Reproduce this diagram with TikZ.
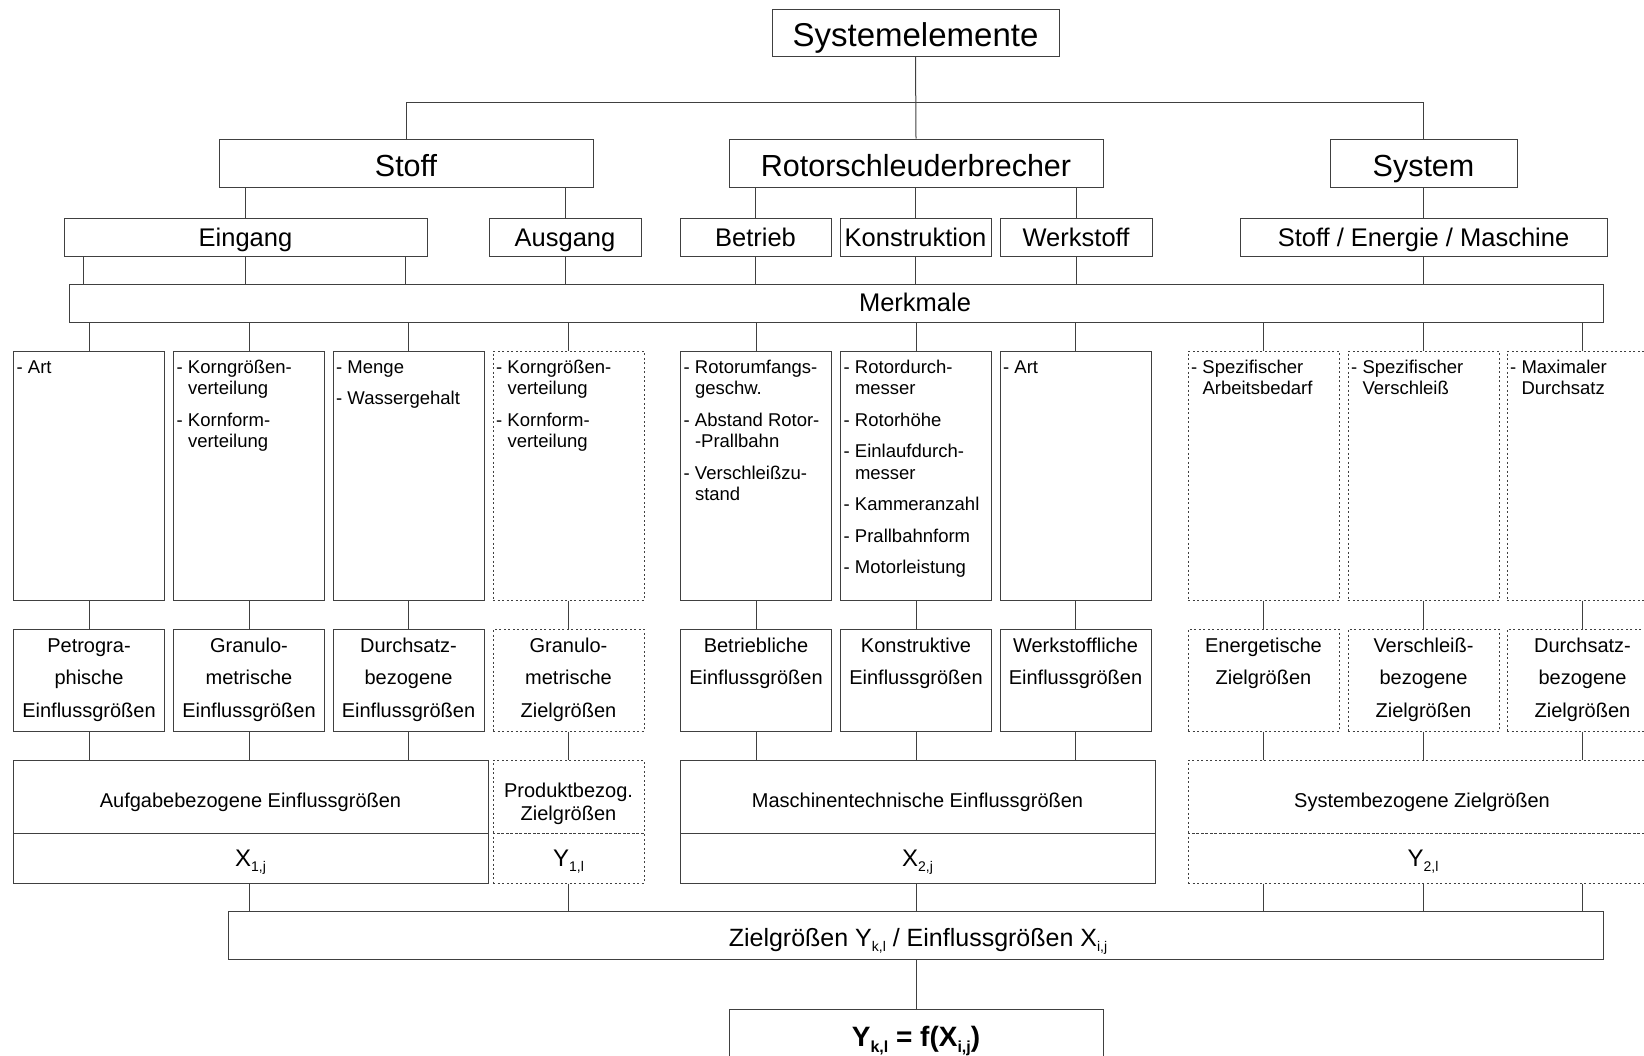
\documentclass[tikz,border=0pt]{standalone}
\usepackage{fontspec}
\setmainfont{Liberation Sans}
\newcommand\lowidx[1]{\raisebox{-5pt}{\fontsize{14}{14}\selectfont #1}}
\newcommand\lowidxb[1]{\raisebox{-6pt}{\fontsize{16}{16}\selectfont #1}}
\newcommand\ind{\phantom{- }}
\newcommand\boxtxtc[1]{\parbox[t]{150pt}{\centering\fontsize{20}{32.5}\selectfont #1}}
\newcommand\boxtxtl[1]{\parbox[t]{150pt}{\raggedright\fontsize{18.5}{21.6}\selectfont #1}}
\begin{document}
\begin{tikzpicture}[x=1pt,y=-1pt,
  ln/.style={draw=black!75, line width=1pt},
  bx/.style={ln, rectangle, inner sep=0pt, minimum width=151pt},
  dbx/.style={bx, dash pattern=on 2pt off 2.5pt},
  tx/.style={anchor=base, inner sep=0pt, text=black},
  lx/.style={anchor=base west, inner sep=0pt, text=black},
  fA/.style={font=\fontsize{33}{40}\selectfont},
  fB/.style={font=\fontsize{30.5}{36}\selectfont},
  fC/.style={font=\fontsize{25.5}{30}\selectfont},
  fD/.style={font=\fontsize{20}{24}\selectfont},
  fX/.style={font=\fontsize{24}{28}\selectfont},
  fZ/.style={font=\fontsize{25}{30}\selectfont}]
\useasboundingbox (0,0) rectangle (1644,1055);
\clip (0,0) rectangle (1644,1055);

% ---- level 0
\node[bx, minimum width=287pt, minimum height=47pt] (sys) at (915.5,32.5) {};
\node[tx, fA] (sysT) at (915.5,46.7) {Systemelemente};

% ---- level 1
\node[bx, minimum width=374pt, minimum height=48pt] (stoff) at (406,163) {};
\node[bx, minimum width=374pt, minimum height=48pt] (rotor) at (916,163) {};
\node[bx, minimum width=187pt, minimum height=48pt] (system) at (1423.5,163) {};
\node[tx, fB] (stoffT) at (406,176) {Stoff};
\node[tx, fB] (rotorT) at (916,176) {Rotorschleuderbrecher};
\node[tx, fB] (systemT) at (1423.5,176) {System};

\coordinate (hub) at (916,102);
\draw[ln] (sys.south) -- (rotor.north);
\draw[ln] (stoff.north) -- (stoff.north |- hub) -- (system.north |- hub) -- (system.north);

% ---- level 2
\node[bx, minimum width=363pt, minimum height=38pt] (eing) at (245.5,237) {};
\node[bx, minimum width=152pt, minimum height=38pt] (ausg) at (565,237) {};
\node[bx, minimum width=151pt, minimum height=38pt] (betr) at (755.5,237) {};
\node[bx, minimum width=151pt, minimum height=38pt] (konst) at (915.5,237) {};
\node[bx, minimum width=152pt, minimum height=38pt] (werk) at (1076,237) {};
\node[bx, minimum width=367pt, minimum height=38pt] (sem) at (1423.5,237) {};
\node[tx, fC] (eingT) at (245.5,246) {Eingang};
\node[tx, fC] (ausgT) at (565,246) {Ausgang};
\node[tx, fC] (betrT) at (755.5,246) {Betrieb};
\node[tx, fC] (konstT) at (915.5,246) {Konstruktion};
\node[tx, fC] (werkT) at (1076,246) {Werkstoff};
\node[tx, fC] (semT) at (1423.5,246) {Stoff / Energie / Maschine};

\draw[ln] (eing.north) -- (eing.north |- stoff.south);
\draw[ln] (ausg.north) -- (ausg.north |- stoff.south);
\draw[ln] (betr.north) -- (betr.north |- rotor.south);
\draw[ln] (konst.north) -- (konst.north |- rotor.south);
\draw[ln] (werk.north) -- (werk.north |- rotor.south);
\draw[ln] (sem.north) -- (sem.north |- system.south);

% ---- Merkmale
\node[bx, minimum width=1534pt, minimum height=38pt] (merk) at (836,303) {};
\node[tx, fC] (merkT) at (915,311.7) {Merkmale};

\draw[ln] (83,0 |- eing.south) -- (83,0 |- merk.north);
\draw[ln] (eing.south) -- (eing.south |- merk.north);
\draw[ln] (405,0 |- eing.south) -- (405,0 |- merk.north);
\draw[ln] (ausg.south) -- (ausg.south |- merk.north);
\draw[ln] (betr.south) -- (betr.south |- merk.north);
\draw[ln] (konst.south) -- (konst.south |- merk.north);
\draw[ln] (werk.south) -- (werk.south |- merk.north);
\draw[ln] (sem.south) -- (sem.south |- merk.north);

% ---- level 3 and level 4 columns
\foreach \i/\x in {1/89,2/249,3/408.5,5/756,6/916,7/1075.5}{
  \node[bx, minimum height=249pt] (a\i) at (\x,475.5) {};
  \node[bx, minimum height=102pt] (b\i) at (\x,680) {};
}
\foreach \i/\x in {4/568.5,8/1263.5,9/1423.5,10/1582.5}{
  \node[dbx, minimum height=249pt] (a\i) at (\x,475.5) {};
  \node[dbx, minimum height=102pt] (b\i) at (\x,680) {};
}
\foreach \i in {1,...,10}{
  \draw[ln] (a\i.north) -- (a\i.north |- merk.south);
  \draw[ln] (a\i.south) -- (b\i.north);
}

% level 3 texts
\node[lx] (l1) at (16.5,373.3) {\boxtxtl{- Art}};
\node[lx] (l2) at (176.5,373.3) {\boxtxtl{- Korngrößen-\\\ind verteilung\\[9.8pt]- Kornform-\\\ind verteilung}};
\node[lx] (l3) at (336,373.3) {\boxtxtl{- Menge\\[9.8pt]- Wassergehalt}};
\node[lx] (l4) at (496,373.3) {\boxtxtl{- Korngrößen-\\\ind verteilung\\[9.8pt]- Kornform-\\\ind verteilung}};
\node[lx] (l5) at (683.5,373.3) {\boxtxtl{- Rotorumfangs-\\\ind geschw.\\[9.8pt]- Abstand Rotor-\\\ind -Prallbahn\\[9.8pt]- Verschleißzu-\\\ind stand}};
\node[lx] (l6) at (843.5,373.3) {\boxtxtl{- Rotordurch-\\\ind messer\\[9.8pt]- Rotorhöhe\\[9.8pt]- Einlaufdurch-\\\ind messer\\[9.8pt]- Kammeranzahl\\[9.8pt]- Prallbahnform\\[9.8pt]- Motorleistung}};
\node[lx] (l7) at (1003,373.3) {\boxtxtl{- Art}};
\node[lx] (l8) at (1191,373.3) {\boxtxtl{- Spezifischer\\\ind Arbeitsbedarf}};
\node[lx] (l9) at (1351,373.3) {\boxtxtl{- Spezifischer\\\ind Verschleiß}};
\node[lx] (l10) at (1510,373.3) {\boxtxtl{- Maximaler\\\ind Durchsatz}};

% level 4 texts
\node[tx] (m1) at (89,652) {\boxtxtc{Petrogra-\\phische\\Einflussgrößen}};
\node[tx] (m2) at (249,652) {\boxtxtc{Granulo-\\metrische\\Einflussgrößen}};
\node[tx] (m3) at (408.5,652) {\boxtxtc{Durchsatz-\\bezogene\\Einflussgrößen}};
\node[tx] (m4) at (568.5,652) {\boxtxtc{Granulo-\\metrische\\Zielgrößen}};
\node[tx] (m5) at (756,652) {\boxtxtc{Betriebliche\\Einflussgrößen}};
\node[tx] (m6) at (916,652) {\boxtxtc{Konstruktive\\Einflussgrößen}};
\node[tx] (m7) at (1075.5,652) {\boxtxtc{Werkstoffliche\\Einflussgrößen}};
\node[tx] (m8) at (1263.5,652) {\boxtxtc{Energetische\\Zielgrößen}};
\node[tx] (m9) at (1423.5,652) {\boxtxtc{Verschleiß-\\bezogene\\Zielgrößen}};
\node[tx] (m10) at (1582.5,652) {\boxtxtc{Durchsatz-\\bezogene\\Zielgrößen}};

% ---- level 5
\node[bx, minimum width=475pt, minimum height=73pt] (aufgU) at (250.5,796.5) {};
\node[bx, minimum width=475pt, minimum height=50pt] (aufgL) at (250.5,858) {};
\node[dbx, minimum width=151pt, minimum height=73pt] (prodU) at (568.5,796.5) {};
\node[dbx, minimum width=151pt, minimum height=50pt] (prodL) at (568.5,858) {};
\node[bx, minimum width=475pt, minimum height=73pt] (maschU) at (917.5,796.5) {};
\node[bx, minimum width=475pt, minimum height=50pt] (maschL) at (917.5,858) {};
\node[dbx, minimum width=475pt, minimum height=73pt] (syszU) at (1425.5,796.5) {};
\node[dbx, minimum width=475pt, minimum height=50pt] (syszL) at (1425.5,858) {};

\node[tx, fD] (aufgT) at (250.5,807) {Aufgabebezogene Einflussgrößen};
\node[tx] (prodT) at (568.5,797.3) {\parbox[t]{150pt}{\centering\fontsize{20}{23}\selectfont Produktbezog.\\Zielgrößen}};
\node[tx, fD] (maschT) at (917.5,807) {Maschinentechnische Einflussgrößen};
\node[tx, fD] (syszT) at (1422,807) {Systembezogene Zielgrößen};
\node[tx, fX] (x1T) at (250.5,866.7) {X\lowidx{1,j}};
\node[tx, fX] (y1T) at (568.5,866.7) {Y\lowidx{1,l}};
\node[tx, fX] (x2T) at (917.5,866.7) {X\lowidx{2,j}};
\node[tx, fX] (y2T) at (1423,866.7) {Y\lowidx{2,l}};

\foreach \i/\t in {1/aufgU,2/aufgU,3/aufgU,4/prodU,5/maschU,6/maschU,7/maschU,8/syszU,9/syszU,10/syszU}{
  \draw[ln] (b\i.south) -- (b\i.south |- \t.north);
}

% ---- bar
\node[bx, minimum width=1374.5pt, minimum height=48pt] (bar) at (915.75,935) {};
\node[tx, fZ] (barT) at (918,946.7) {Zielgrößen Y\lowidx{k,l} / Einflussgrößen X\lowidx{i,j}};

\draw[ln] (b2.south |- aufgL.south) -- (b2.south |- bar.north);
\draw[ln] (prodL.south) -- (prodL.south |- bar.north);
\draw[ln] (b6.south |- maschL.south) -- (b6.south |- bar.north);
\draw[ln] (b8.south |- syszL.south) -- (b8.south |- bar.north);
\draw[ln] (b9.south |- syszL.south) -- (b9.south |- bar.north);
\draw[ln] (b10.south |- syszL.south) -- (b10.south |- bar.north);

% ---- final
\node[bx, minimum width=374pt, minimum height=54pt] (fin) at (916,1036) {};
\node[tx, font=\bfseries\fontsize{28}{32}\selectfont] (finT) at (916,1046) {Y\lowidxb{k,l} = f(X\lowidxb{i,j})};
\draw[ln] (fin.north |- bar.south) -- (fin.north);
\end{tikzpicture}
\end{document}
